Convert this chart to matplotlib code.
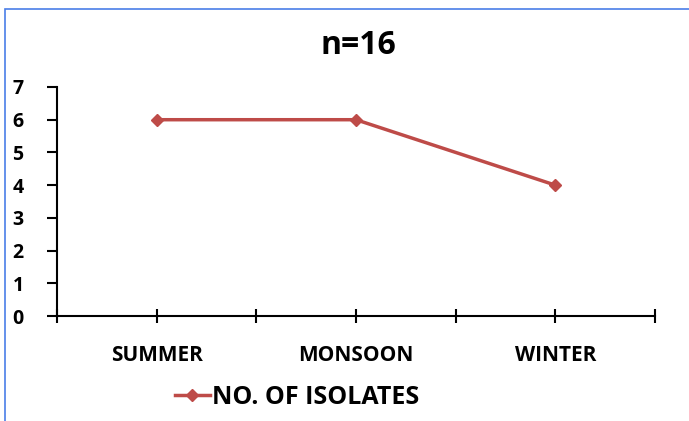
import matplotlib.pyplot as plt
from matplotlib.patches import Rectangle
from matplotlib.ticker import MultipleLocator

# data
seasons = ["SUMMER", "MONSOON", "WINTER"]
isolates = [6, 6, 4]

plt.rcParams["font.family"] = ["Open Sans", "DejaVu Sans"]
plt.rcParams["font.weight"] = "bold"

fig = plt.figure(figsize=(6.89, 4.21), dpi=100)
ax = fig.add_axes([57 / 689, 105 / 421, 598 / 689, 229 / 421])

xs = [i + 0.5 for i in range(len(seasons))]
ax.plot(xs, isolates, color="#BE4B48", lw=2.5, marker="D", ms=6,
        label="NO. OF ISOLATES")

ax.set_xlim(0, len(seasons))
ax.set_ylim(0, 7)
ax.yaxis.set_major_locator(MultipleLocator(1))
ax.set_xticks(xs)
ax.set_xticklabels(seasons, fontsize=15, fontweight="bold")
ax.set_xticks(range(len(seasons) + 1), minor=True)
for lab in ax.get_yticklabels():
    lab.set_fontsize(14)
    lab.set_fontweight("bold")

for s in ["top", "right"]:
    ax.spines[s].set_visible(False)
for s in ["left", "bottom"]:
    ax.spines[s].set_linewidth(1.5)
ax.tick_params(axis="y", direction="out", length=7, width=1.5, pad=17)
ax.tick_params(axis="x", which="both", direction="inout", length=10, width=1.5, pad=16)

fig.text(358 / 689, 1 - 45 / 421, "n=16", ha="center", va="center",
         fontsize=23, fontweight="bold")

fig.legend(loc="center left", bbox_to_anchor=(152 / 689, 1 - 397 / 421),
           frameon=False, handlelength=1.4, handletextpad=0.1,
           prop={"weight": "bold", "size": 18})

# thin blue chart border
fig.patches.append(Rectangle((5 / 689, -0.1), 1.1, 1 - 9 / 421 + 0.1,
                             transform=fig.transFigure, fill=False,
                             edgecolor="#4A7EE8", lw=1.2))

fig.savefig("out.png", dpi=100)
